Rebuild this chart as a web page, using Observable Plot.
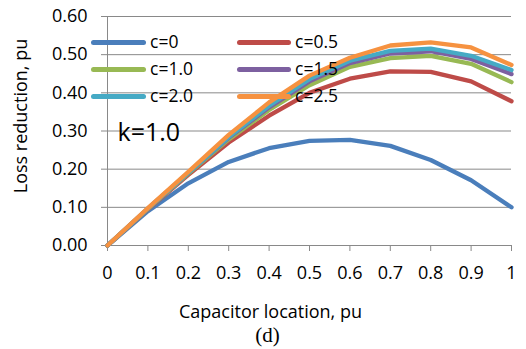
<!DOCTYPE html>
<html>
<head>
<meta charset="utf-8">
<script src="https://cdn.jsdelivr.net/npm/d3@7"></script>
<script src="https://cdn.jsdelivr.net/npm/@observablehq/plot@0.6"></script>
<style>
  html, body { margin: 0; padding: 0; background: #fff; }
  #wrap { position: relative; width: 526px; height: 349px; font-family: "Open Sans", sans-serif; }
  .leg { position: absolute; height: 20px; display: flex; align-items: center; font-size: 17.5px; color: #000; line-height: 1; white-space: nowrap; }
  .leg .sw { display: inline-block; height: 5px; border-radius: 3px; }
</style>
</head>
<body>
<div id="wrap"></div>
<script>
const locations = [0, 0.1, 0.2, 0.3, 0.4, 0.5, 0.6, 0.7, 0.8, 0.9, 1.0];
const seriesNames = ["c=0", "c=0.5", "c=1.0", "c=1.5", "c=2.0", "c=2.5"];
const c0  = [0, 0.090, 0.163, 0.219, 0.255, 0.274, 0.277, 0.261, 0.224, 0.171, 0.100];
const c05 = [0, 0.095, 0.185, 0.270, 0.340, 0.400, 0.437, 0.456, 0.455, 0.430, 0.378];
const c10 = [0, 0.096, 0.188, 0.278, 0.355, 0.420, 0.468, 0.491, 0.497, 0.476, 0.428];
const c15 = [0, 0.097, 0.190, 0.282, 0.362, 0.430, 0.478, 0.503, 0.509, 0.489, 0.449];
const c20 = [0, 0.097, 0.190, 0.284, 0.366, 0.436, 0.484, 0.510, 0.516, 0.497, 0.460];
const c25 = [0, 0.098, 0.193, 0.290, 0.375, 0.445, 0.492, 0.524, 0.532, 0.519, 0.473];
const colors = ["#4A7EBB", "#BE4B48", "#98B954", "#7D60A0", "#46AAC5", "#F69240"];
const yTicks = [0, 0.1, 0.2, 0.3, 0.4, 0.5, 0.6];
const xTitle = "Capacitor location, pu";
const yTitle = "Loss reduction, pu";
const annotation = "k=1.0";
const caption = "(d)";

const allSeries = [c0, c05, c10, c15, c20, c25];
const rows = [];
allSeries.forEach((vals, si) => {
  vals.forEach((v, i) => rows.push({series: seriesNames[si], x: locations[i], y: v}));
});

const grid = "#898989";
const chart = Plot.plot({
  width: 526,
  height: 349,
  marginLeft: 107,
  marginRight: 15,
  marginTop: 16,
  marginBottom: 104,
  style: {fontFamily: "'Open Sans', sans-serif", fontSize: "18px", color: "#000", background: "#fff", overflow: "visible"},
  x: {domain: [0, 1]},
  y: {domain: [0, 0.6]},
  color: {domain: seriesNames, range: colors},
  marks: [
    Plot.gridY(yTicks, {stroke: grid, strokeOpacity: 1, strokeWidth: 1}),
    Plot.axisY(yTicks, {tickSize: 6, tickPadding: 14, stroke: grid, fontSize: 18,
      tickFormat: d3.format(".2f"), label: null}),
    Plot.axisX(locations, {tickSize: 6, tickPadding: 15, stroke: grid, fontSize: 18,
      tickFormat: d3.format(""), label: null}),
    Plot.ruleX([0], {stroke: grid}),
    Plot.ruleY([0], {stroke: grid}),
    Plot.line(rows, {x: "x", y: "y", z: "series", stroke: "series", strokeWidth: 4.3, strokeLinejoin: "round", strokeLinecap: "round"}),
    Plot.text([annotation], {frameAnchor: "top-left", dx: 10, dy: 124, fontSize: 25, textAnchor: "start", lineAnchor: "bottom"}),
    Plot.text([xTitle], {frameAnchor: "bottom", dx: -39, dy: 67, fontSize: 18, textAnchor: "middle", lineAnchor: "middle"}),
    Plot.text([yTitle], {frameAnchor: "left", rotate: -90, dx: -86, dy: -15, fontSize: 18, textAnchor: "middle", lineAnchor: "middle"}),
    Plot.text([caption], {frameAnchor: "bottom", dx: -42, dy: 90, fontSize: 21, textAnchor: "middle", lineAnchor: "middle", fontFamily: "'Liberation Serif', serif"})
  ]
});
const wrap = document.getElementById("wrap");
wrap.appendChild(chart);

// legend overlay (3 rows x 2 columns)
const legPos = [[91, 42], [237, 42], [91, 69], [237, 69], [91, 96], [237, 96]];
seriesNames.forEach((name, si) => {
  const d = document.createElement("div");
  d.className = "leg";
  d.style.left = legPos[si][0] + "px";
  d.style.top = (legPos[si][1] - 10) + "px";
  const sw = document.createElement("span");
  sw.className = "sw";
  sw.style.width = (si % 2 === 0 ? 55 : 54) + "px";
  sw.style.marginRight = "4px";
  sw.style.background = colors[si];
  d.appendChild(sw);
  const t = document.createElement("span");
  t.textContent = name;
  d.appendChild(t);
  wrap.appendChild(d);
});
</script>
</body>
</html>
